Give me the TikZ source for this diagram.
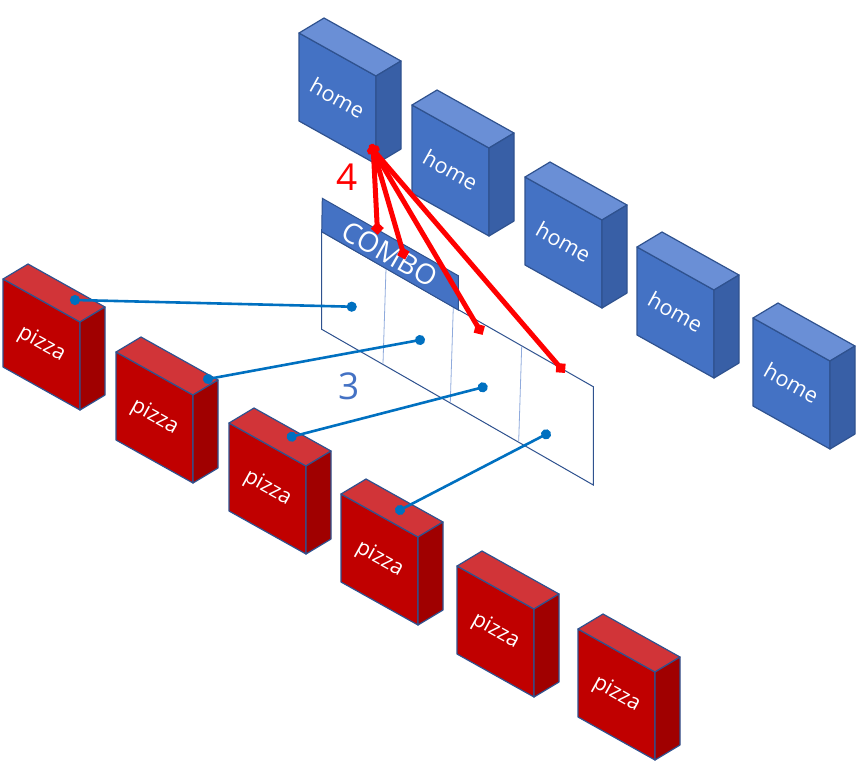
\documentclass[tikz,border=0pt]{standalone}
\usepackage{fontspec}
\setmainfont{Open Sans}
\usetikzlibrary{arrows.meta}
\definecolor{homefront}{RGB}{68,114,196}
\definecolor{hometop}{RGB}{106,143,214}
\definecolor{homeside}{RGB}{56,95,166}
\definecolor{pizzafront}{RGB}{192,0,0}
\definecolor{pizzatop}{RGB}{209,52,56}
\definecolor{pizzaside}{RGB}{160,0,0}
\definecolor{edgeblue}{RGB}{47,82,143}
\definecolor{wireblue}{RGB}{0,112,192}
\definecolor{divider}{RGB}{143,170,220}

\tikzset{
    boxedge/.style={draw=edgeblue, line width=1.2pt, line join=round},
    boxlabel/.style={text=white, font=\fontsize{21.5}{21.5}\selectfont, rotate=-29},
    wire/.style={wireblue, line width=2.6pt, {Circle[length=10pt]}-{Circle[length=10pt]},
        shorten <=-5pt, shorten >=-5pt},
    link/.style={red, line width=5pt, {Diamond[length=13pt,width=13pt]}-{Diamond[length=13pt,width=13pt]},
        shorten <=-6.5pt, shorten >=-6.5pt},
    bignum/.style={font=\fontsize{37}{37}\selectfont}
}

\begin{document}
\begin{tikzpicture}[x=1pt, y=-1pt]
        \useasboundingbox (0,0) rectangle (860,780);

        % Home boxes
        \foreach \x/\y [count=\i] in {299/33, 412/105, 525/177, 637/247, 753/318} {
            \fill[homefront, boxedge] (\x,\y) -- ++(77,43) -- ++(0,88) -- ++(-77,-43) -- cycle;
            \fill[hometop, boxedge] (\x,\y) -- ++(25,-15) -- ++(77,43) -- ++(-25,15) -- cycle;
            \fill[homeside, boxedge] (\x+77,\y+43) -- ++(25,-15) -- ++(0,88) -- ++(-25,15) -- cycle;
            \node[boxlabel] (home\i) at (\x+38.5,\y+65) {home};
        }

        % Pizza boxes
        \foreach \x/\y [count=\i] in {3/279, 116/352, 229/423, 341/494, 457/566, 578/629} {
            \fill[pizzafront, boxedge] (\x,\y) -- ++(77,43) -- ++(0,88) -- ++(-77,-43) -- cycle;
            \fill[pizzatop, boxedge] (\x,\y) -- ++(25,-15) -- ++(77,43) -- ++(-25,15) -- cycle;
            \fill[pizzaside, boxedge] (\x+77,\y+43) -- ++(25,-15) -- ++(0,88) -- ++(-25,15) -- cycle;
            \node[boxlabel] (pizza\i) at (\x+38.5,\y+65) {pizza};
        }

        % Combo panel
        \filldraw[fill=white, draw=edgeblue, line width=1pt] (321.7,231.7) -- (593.3,386.7) -- (593.3,485) -- (321.7,329.3) -- cycle;
        \foreach \a/\b in {386/268.5, 453.3/307, 521.7/346}
            \draw[divider, line width=0.8pt] (\a,\b) -- (\a-3,\b+95);
        \filldraw[fill=homefront, draw=edgeblue, line width=1pt] (322.3,198.3) -- (458.3,275.7) -- (458.3,310) -- (321.7,231.7) -- cycle;
        \node[text=white, font=\fontsize{28}{28}\selectfont, rotate=-29.5] (combo) at (390,254) {COMBO};

        % Counts
        \node[bignum, text=red] (four) at (347,177.5) {4};
        \node[bignum, text=homefront] (three) at (349.5,386.3) {3};

        % Connector ends
        \coordinate (pizzadot1) at (75,300);
        \coordinate (pizzadot2) at (208,379);
        \coordinate (pizzadot3) at (291.7,436.7);
        \coordinate (pizzadot4) at (400,510);
        \coordinate (cell1) at (351.7,306.7);
        \coordinate (cell2) at (420,340);
        \coordinate (cell3) at (482.7,387.3);
        \coordinate (cell4) at (546,434.3);
        \coordinate (homeport) at (373.3,150);
        \coordinate (slot1) at (377.3,228.3);
        \coordinate (slot2) at (403.3,253.3);
        \coordinate (slot3) at (479.3,329.3);
        \coordinate (slot4) at (560.7,368);

        % Pizza links
        \foreach \i in {1,...,4}
            \draw[wire] (pizzadot\i) -- (cell\i);

        % Home links
        \foreach \i in {1,...,4}
            \draw[link] (homeport) -- (slot\i);

    \end{tikzpicture}
\end{document}
